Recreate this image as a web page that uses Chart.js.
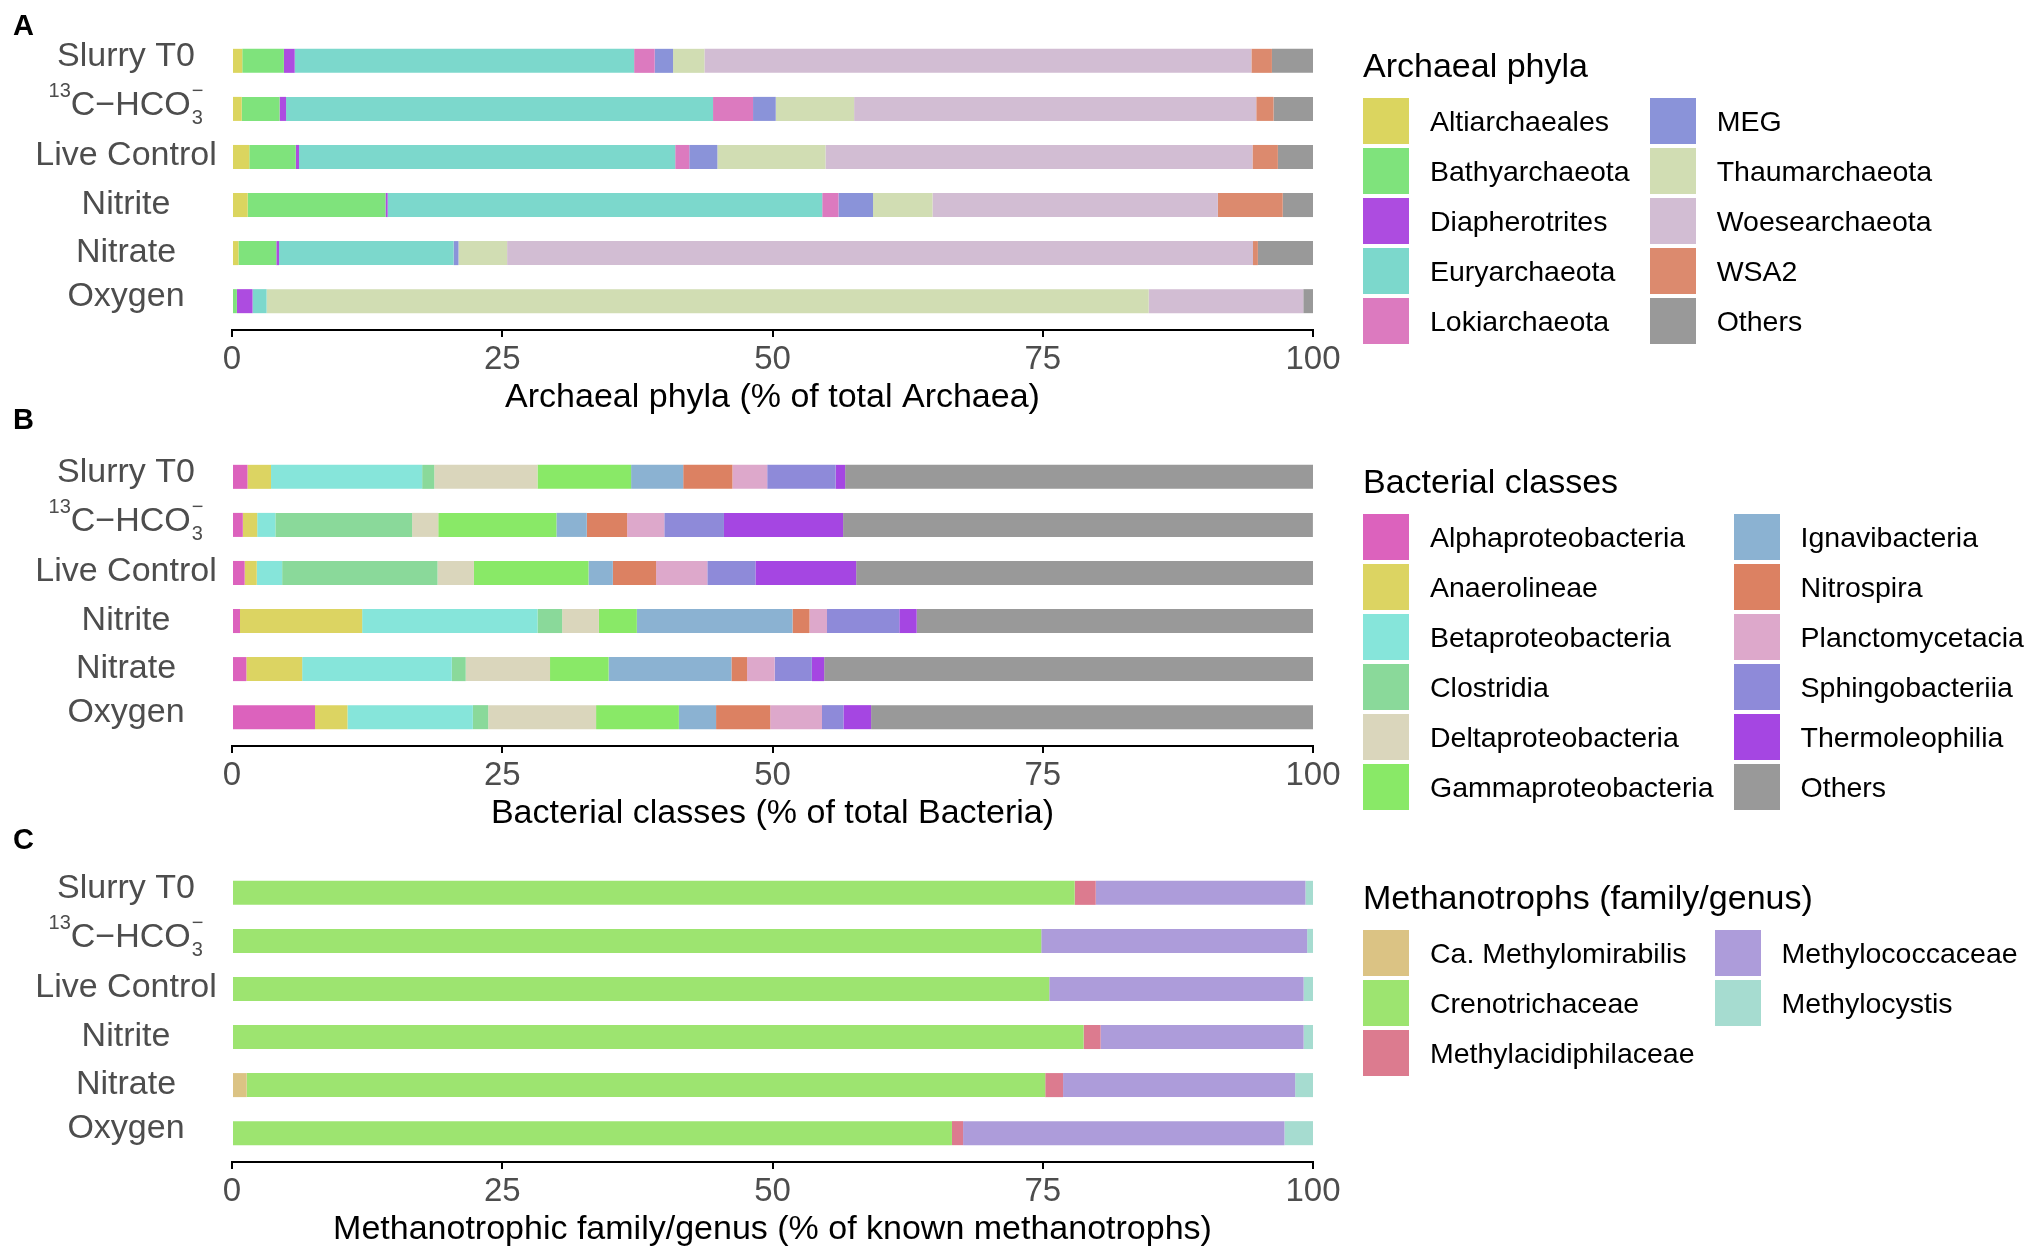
<!DOCTYPE html>
<html lang="en">
<head>
<meta charset="UTF-8">
<title>Archaea, Bacteria and methanotrophs per treatment</title>
<script src="https://cdn.jsdelivr.net/npm/chart.js"></script>
<style>
  body { margin: 0; background: #fff; font-family: "Liberation Sans", Arial, sans-serif; }
  #page { position: relative; width: 2033px; height: 1254px; overflow: hidden; }
  canvas { position: absolute; left: 0; }
  .tag { position: absolute; left: 13px; font-weight: bold; font-size: 29px; line-height: 29px; }
  .legend { position: absolute; left: 1363px; color: #000; }
  .legend .ttl { font-size: 34px; line-height: 40px; height: 40px; white-space: nowrap; }
  .cols { display: flex; gap: 20px; margin-top: 13px; }
  .col { display: flex; flex-direction: column; gap: 4px; }
  .item { display: flex; align-items: center; height: 46px; font-size: 28.5px; white-space: nowrap; }
  .key { width: 46px; height: 46px; margin-right: 21px; flex: none; }
</style>
</head>
<body>
<div id="page">
  <canvas id="chartA" width="2033" height="416" style="top:0"></canvas>
  <canvas id="chartB" width="2033" height="416" style="top:416px"></canvas>
  <canvas id="chartC" width="2033" height="416" style="top:832px"></canvas>
  <div class="tag" style="top:11px">A</div>
  <div class="tag" style="top:405px">B</div>
  <div class="tag" style="top:825px">C</div>
  <div class="legend" id="legA" style="top:45px"></div>
  <div class="legend" id="legB" style="top:461px"></div>
  <div class="legend" id="legC" style="top:877px"></div>
</div>
<script>
  // samples, top to bottom
  const samples = ['Slurry T0', '13C-HCO3-', 'Live Control', 'Nitrite', 'Nitrate', 'Oxygen'];
  const xTicks = [0, 25, 50, 75, 100];

  // A: archaeal phyla (% of total Archaea), one row per phylum, one value per sample
  const archaeaNames = ['Altiarchaeales', 'Bathyarchaeota', 'Diapherotrites', 'Euryarchaeota', 'Lokiarchaeota',
                        'MEG', 'Thaumarchaeota', 'Woesearchaeota', 'WSA2', 'Others'];
  const archaeaColors = ['#dbd55f', '#7fe37c', '#ad4ce0', '#7cd8cc', '#dc7abf',
                         '#8a93d9', '#d1ddb3', '#d2bdd3', '#dc8a6e', '#999999'];
  const archaeaValues = [
    [0.95, 0.9, 1.6, 1.45, 0.6, 0],
    [3.85, 3.5, 4.3, 12.75, 3.5, 0.45],
    [1.0, 0.6, 0.3, 0.2, 0.25, 1.45],
    [31.4, 39.5, 34.8, 40.2, 16.15, 1.3],
    [1.9, 3.7, 1.3, 1.5, 0, 0],
    [1.7, 2.1, 2.6, 3.2, 0.45, 0],
    [2.9, 7.25, 10.0, 5.5, 4.5, 81.6],
    [50.6, 37.2, 39.5, 26.4, 69.0, 14.3],
    [1.9, 1.6, 2.35, 6.0, 0.45, 0],
    [3.8, 3.65, 3.25, 2.8, 5.1, 0.9]
  ];

  // B: bacterial classes (% of total Bacteria)
  const bacteriaNames = ['Alphaproteobacteria', 'Anaerolineae', 'Betaproteobacteria', 'Clostridia',
                         'Deltaproteobacteria', 'Gammaproteobacteria', 'Ignavibacteria', 'Nitrospira',
                         'Planctomycetacia', 'Sphingobacteriia', 'Thermoleophilia', 'Others'];
  const bacteriaColors = ['#dc62bd', '#dcd462', '#86e5da', '#8ad99a', '#dad6bc', '#89e967',
                          '#8bb2d2', '#dc8162', '#dda8cb', '#8e8ad9', '#a546e2', '#999999'];
  const bacteriaValues = [
    [1.43, 1.0, 1.17, 0.74, 1.33, 7.68],
    [2.18, 1.33, 1.12, 11.3, 5.16, 3.0],
    [13.98, 1.68, 2.35, 16.22, 13.84, 11.6],
    [1.12, 12.65, 14.37, 2.28, 1.29, 1.42],
    [9.55, 2.42, 3.37, 3.4, 7.8, 9.98],
    [8.66, 10.93, 10.6, 3.51, 5.42, 7.66],
    [4.82, 2.81, 2.25, 14.4, 11.36, 3.44],
    [4.55, 3.73, 4.0, 1.57, 1.45, 5.01],
    [3.22, 3.44, 4.74, 1.62, 2.55, 4.79],
    [6.33, 5.52, 4.45, 6.69, 3.44, 1.98],
    [0.88, 11.02, 9.32, 1.61, 1.14, 2.56],
    [43.28, 43.46, 42.26, 36.66, 45.22, 40.9]
  ];

  // C: methanotrophs (% of known methanotrophs)
  const methanoNames = ['Ca. Methylomirabilis', 'Crenotrichaceae', 'Methylacidiphilaceae',
                        'Methylococcaceae', 'Methylocystis'];
  const methanoColors = ['#dbc384', '#9de470', '#dc7b8f', '#ad9cda', '#a6dcd0'];
  const methanoValues = [
    [0, 0, 0, 0, 1.36, 0],
    [77.95, 74.86, 75.6, 78.78, 73.87, 66.6],
    [1.95, 0, 0, 1.57, 1.65, 1.03],
    [19.4, 24.6, 23.53, 18.78, 21.47, 29.73],
    [0.7, 0.54, 0.87, 0.87, 1.65, 2.64]
  ];

  const FONT = '"Liberation Sans", Arial, sans-serif';
  Chart.defaults.font.family = FONT;

  // 13C-HCO3- label with super/subscripts
  function drawHco3(ctx, cx, barY) {
    const base = barY + 6.3;
    ctx.font = '20px ' + FONT;
    const w13 = ctx.measureText('13').width;
    const wSub = Math.max(ctx.measureText('3').width, ctx.measureText('\u2212').width);
    ctx.font = '34px ' + FONT;
    const wMain = ctx.measureText('C\u2212HCO').width;
    let x = cx - (w13 + wMain + wSub + 1) / 2;
    ctx.textAlign = 'left';
    ctx.textBaseline = 'alphabetic';
    ctx.font = '20px ' + FONT;
    ctx.fillText('13', x, base - 18);
    x += w13;
    ctx.font = '34px ' + FONT;
    ctx.fillText('C\u2212HCO', x, base);
    x += wMain + 1;
    ctx.font = '20px ' + FONT;
    ctx.fillText('3', x, base + 9);
    ctx.fillText('\u2212', x, base - 18);
  }

  const sampleLabels = {
    id: 'sampleLabels',
    afterDraw(chart) {
      const ctx = chart.ctx;
      const y = chart.scales.y;
      ctx.save();
      ctx.fillStyle = '#4d4d4d';
      samples.forEach((s, i) => {
        const barY = y.getPixelForValue(i + 1);
        if (i === 1) { drawHco3(ctx, 126, barY); return; }
        ctx.font = '34px ' + FONT;
        ctx.textAlign = 'center';
        ctx.textBaseline = 'alphabetic';
        const m = ctx.measureText(s);
        const cy = barY - 3.5;
        ctx.fillText(s, 126, cy + (m.actualBoundingBoxAscent - m.actualBoundingBoxDescent) / 2);
      });
      ctx.restore();
    }
  };

  function makeChart(id, names, colors, values, title) {
    new Chart(document.getElementById(id), {
      type: 'bar',
      data: {
        datasets: names.map((n, k) => ({
          label: n,
          data: values[k].map((v, i) => ({ x: v, y: i + 1 })),
          backgroundColor: colors[k],
          borderWidth: 0,
          barPercentage: 0.5,
          categoryPercentage: 1
        }))
      },
      options: {
        indexAxis: 'y',
        responsive: false,
        animation: false,
        events: [],
        layout: { padding: { left: 232, right: 720, top: 32, bottom: 0 } },
        plugins: { legend: { display: false }, tooltip: { enabled: false } },
        scales: {
          x: {
            type: 'linear', stacked: true, min: 0, max: 100,
            afterBuildTicks: s => { s.ticks = xTicks.map(v => ({ value: v })); },
            ticks: { color: '#4d4d4d', font: { size: 33 }, padding: 3, maxRotation: 0 },
            grid: { drawOnChartArea: false, drawTicks: true, tickLength: 7, color: '#000', lineWidth: 2 },
            border: { display: true, color: '#000', width: 2 },
            title: { display: true, text: title, color: '#000', font: { size: 34, lineHeight: 1.1 }, padding: 0 },
            afterFit: s => { s.height = 86; }
          },
          y: {
            type: 'linear', stacked: true, reverse: true, offset: false,
            min: 0.4, max: 6.6, display: false,
            afterBuildTicks: s => { s.ticks = samples.map((_, i) => ({ value: i + 1 })); }
          }
        }
      },
      plugins: [sampleLabels]
    });
  }

  function buildLegend(id, title, names, colors, perCol) {
    const el = document.getElementById(id);
    let html = '<div class="ttl">' + title + '</div><div class="cols">';
    for (let c = 0; c < names.length; c += perCol) {
      html += '<div class="col">';
      names.slice(c, c + perCol).forEach((n, j) => {
        html += '<div class="item"><span class="key" style="background:' + colors[c + j] + '"></span>' + n + '</div>';
      });
      html += '</div>';
    }
    el.innerHTML = html + '</div>';
  }

  makeChart('chartA', archaeaNames, archaeaColors, archaeaValues, 'Archaeal phyla (% of total Archaea)');
  makeChart('chartB', bacteriaNames, bacteriaColors, bacteriaValues, 'Bacterial classes (% of total Bacteria)');
  makeChart('chartC', methanoNames, methanoColors, methanoValues, 'Methanotrophic family/genus (% of known methanotrophs)');

  buildLegend('legA', 'Archaeal phyla', archaeaNames, archaeaColors, 5);
  buildLegend('legB', 'Bacterial classes', bacteriaNames, bacteriaColors, 6);
  buildLegend('legC', 'Methanotrophs (family/genus)', methanoNames, methanoColors, 3);
</script>
</body>
</html>
